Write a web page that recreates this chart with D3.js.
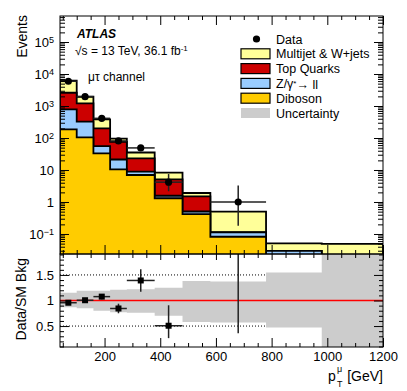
<!DOCTYPE html>
<html>
<head>
<meta charset="utf-8">
<script src="https://cdn.jsdelivr.net/npm/d3@7"></script>
<style>
  body { margin: 0; background: #fff; }
  svg { font-family: "Liberation Sans", Arial, Helvetica, sans-serif; }
</style>
</head>
<body>
<svg id="chart" width="407" height="391"></svg>
<script>
// bins in p_T (GeV)
const binEdges = [40, 100, 160, 220, 280, 380, 480, 580, 780, 980, 1200];

// background components per bin (events)
const diboson   = [187, 105, 33.3, 10.4, 6.98, 1.31, 0.42, 0.082, 0.022, 0.005];
const zjets     = [603, 218, 22.7, 10.9, 1.87, 0.26, 0.085, 0.031, 0.0075, 0.003];
const topQuarks = [1810, 887, 145, 54.7, 14.35, 3.55, 0.985, 0.002, 0, 0];
const multijet  = [3600, 740, 182, 20, 12, 3.12, 0.42, 0.384, 0.0215, 0.041];

// observed data, null = empty bin
const dataCounts  = [5930, 1960, 412, 81, 49, 4.17, null, 1, null, null];
const dataErrUp   = [77, 44, 20, 9, 7.7, 3.3, 0, 2.3, 0, 0];
const dataErrDown = [77, 44, 20, 9, 7.7, 2.0, 0, 0.82, 0, 0];

// relative systematic uncertainty on total background
const uncUp   = [0.15, 0.19, 0.19, 0.21, 0.22, 0.25, 0.38, 0.37, 0.55, 1.2];
const uncDown = [0.13, 0.15, 0.20, 0.23, 0.24, 0.30, 0.42, 0.43, 0.53, 1.2];

const mainYTicks = [1e-1, 1, 10, 1e2, 1e3, 1e4, 1e5];
const ratioYTicks = [0.5, 1, 1.5];
const xTicks = [200, 400, 600, 800, 1000, 1200];

const keys = ['diboson', 'zjets', 'top', 'multijet'];
const colors = { diboson: '#ffcc00', zjets: '#99ccff', top: '#cc0000', multijet: '#ffff99' };
const uncColor = '#cccccc';

const padLeft = 60, padRight = 383, padTop = 16, mainBottom = 254, ratioBottom = 347;

const x = d3.scaleLinear([40, 1200], [padLeft, padRight]);
const y = d3.scaleLog([0.0237, 6.5e5], [mainBottom, padTop]);
const yr = d3.scaleLinear([0.09, 1.91], [ratioBottom, mainBottom]);

const bins = binEdges.slice(0, -1).map((e, i) => ({
  x0: e, x1: binEdges[i + 1],
  diboson: diboson[i], zjets: zjets[i], top: topQuarks[i], multijet: multijet[i],
  data: dataCounts[i], up: dataErrUp[i], down: dataErrDown[i],
  uncUp: uncUp[i], uncDown: uncDown[i],
}));
bins.forEach((b) => { b.total = keys.reduce((s, k) => s + b[k], 0); });

const layers = d3.stack().keys(keys)(bins);

const svg = d3.select('#chart');
const defs = svg.append('defs');
defs.append('clipPath').attr('id', 'clip-main')
  .append('rect').attr('x', padLeft).attr('y', padTop)
  .attr('width', padRight - padLeft).attr('height', mainBottom - padTop);
defs.append('clipPath').attr('id', 'clip-ratio')
  .append('rect').attr('x', padLeft).attr('y', mainBottom)
  .attr('width', padRight - padLeft).attr('height', ratioBottom - mainBottom);

// ---------- main panel ----------
const gMain = svg.append('g').attr('clip-path', 'url(#clip-main)');

const stepPoints = (arr) => arr.flatMap((d) => [[d.data.x0, d[1]], [d.data.x1, d[1]]]);
const histArea = d3.area()
  .x((d) => x(d[0]))
  .y0(mainBottom + 10)
  .y1((d) => y(Math.max(d[1], 1e-5)));

layers.slice().reverse().forEach((layer) => {
  gMain.append('path')
    .attr('d', histArea(stepPoints(layer)))
    .attr('fill', colors[layer.key])
    .attr('stroke', '#000')
    .attr('stroke-width', 1.8)
    .attr('stroke-linejoin', 'miter');
});

const dataBins = bins.filter((b) => b.data != null);
const errColor = '#222';

gMain.selectAll('line.xerr')
  .data(dataBins)
  .join('line')
    .attr('x1', (d) => x(d.x0))
    .attr('x2', (d) => x(d.x1))
    .attr('y1', (d) => y(d.data))
    .attr('y2', (d) => y(d.data))
    .attr('stroke', errColor)
    .attr('stroke-width', 1.5);

gMain.selectAll('line.yerr')
  .data(dataBins)
  .join('line')
    .attr('x1', (d) => x((d.x0 + d.x1) / 2))
    .attr('x2', (d) => x((d.x0 + d.x1) / 2))
    .attr('y1', (d) => y(d.data + d.up))
    .attr('y2', (d) => y(Math.max(d.data - d.down, 1e-5)))
    .attr('stroke', errColor)
    .attr('stroke-width', 1.5);

gMain.selectAll('circle')
  .data(dataBins)
  .join('circle')
    .attr('cx', (d) => x((d.x0 + d.x1) / 2))
    .attr('cy', (d) => y(d.data))
    .attr('r', 3.6)
    .attr('fill', '#000');

// ---------- ratio panel ----------
const gRatio = svg.append('g').attr('clip-path', 'url(#clip-ratio)');

[0.5, 1.5].forEach((v) => {
  gRatio.append('line')
    .attr('x1', padLeft).attr('x2', padRight)
    .attr('y1', yr(v)).attr('y2', yr(v))
    .attr('stroke', '#000')
    .attr('stroke-width', 1)
    .attr('stroke-dasharray', '1,2');
});

const uncPoints = bins.flatMap((b) => [b, { ...b, x0: b.x1 }]);
gRatio.append('path')
  .attr('d', d3.area()
    .x((d) => x(d.x0))
    .y0((d) => yr(1 - d.uncDown))
    .y1((d) => yr(1 + d.uncUp))(uncPoints))
  .attr('fill', uncColor);

gRatio.append('line')
  .attr('x1', padLeft).attr('x2', padRight)
  .attr('y1', yr(1)).attr('y2', yr(1))
  .attr('stroke', '#ff0000')
  .attr('stroke-width', 1.5);

dataBins.forEach((b) => {
  const r = b.data / b.total;
  const cx = x((b.x0 + b.x1) / 2);
  gRatio.append('line')
    .attr('x1', x(b.x0)).attr('x2', x(b.x1))
    .attr('y1', yr(r)).attr('y2', yr(r))
    .attr('stroke', errColor).attr('stroke-width', 1.5);
  gRatio.append('line')
    .attr('x1', cx).attr('x2', cx)
    .attr('y1', yr(r + b.up / b.total))
    .attr('y2', yr(r - b.down / b.total))
    .attr('stroke', errColor).attr('stroke-width', 1.5);
  gRatio.append('rect')
    .attr('x', cx - 3).attr('y', yr(r) - 3)
    .attr('width', 6).attr('height', 6)
    .attr('fill', '#000');
});

// ---------- axes ----------
const logMinor = [];
for (let e = -2; e <= 5; e++) {
  for (let m = 2; m <= 9; m++) {
    const v = m * Math.pow(10, e);
    if (v > y.domain()[0] && v < y.domain()[1]) logMinor.push(v);
  }
}
const xMinor = d3.range(50, 1200, 50).filter((v) => v % 200 !== 0);
const rMinor = d3.range(1, 20).map((v) => v / 10).filter((v) => v % 0.5 !== 0);

function addAxis(axis, transform) {
  const g = svg.append('g')
    .attr('transform', transform)
    .call(axis.tickSizeOuter(0));
  g.select('.domain').remove();
  g.selectAll('line').attr('stroke', '#000');
  g.selectAll('text')
    .style('font-family', '"Liberation Sans", Arial, sans-serif')
    .style('font-size', '13px')
    .attr('fill', '#000');
  return g;
}

// main panel y
const yLabels = addAxis(
  d3.axisLeft(y).tickValues(mainYTicks).tickSize(-9).tickPadding(6),
  `translate(${padLeft},0)`);
yLabels.selectAll('text').each(function (d) {
  const t = d3.select(this).text('');
  const exp = Math.round(Math.log10(d));
  if (exp === 0) { t.text('1'); return; }
  t.append('tspan').text('10');
  if (exp !== 1) {
    t.append('tspan').attr('dy', '-0.45em').style('font-size', '9px')
      .text(exp < 0 ? '\u2212' + (-exp) : exp);
  }
});
addAxis(d3.axisLeft(y).tickValues(logMinor).tickSize(-5).tickFormat(''), `translate(${padLeft},0)`);
addAxis(d3.axisRight(y).tickValues(mainYTicks).tickSize(-9).tickFormat(''), `translate(${padRight},0)`);
addAxis(d3.axisRight(y).tickValues(logMinor).tickSize(-5).tickFormat(''), `translate(${padRight},0)`);

// main panel x (top and bottom, no labels)
addAxis(d3.axisTop(x).tickValues(xTicks).tickSize(-9).tickFormat(''), `translate(0,${padTop})`);
addAxis(d3.axisTop(x).tickValues(xMinor).tickSize(-4).tickFormat(''), `translate(0,${padTop})`);
addAxis(d3.axisBottom(x).tickValues(xTicks).tickSize(-9).tickFormat(''), `translate(0,${mainBottom})`);
addAxis(d3.axisBottom(x).tickValues(xMinor).tickSize(-4).tickFormat(''), `translate(0,${mainBottom})`);

// ratio panel
addAxis(d3.axisTop(x).tickValues(xTicks).tickSize(-6).tickFormat(''), `translate(0,${mainBottom})`);
addAxis(d3.axisTop(x).tickValues(xMinor).tickSize(-4).tickFormat(''), `translate(0,${mainBottom})`);
addAxis(d3.axisBottom(x).tickValues(xTicks).tickSize(-9).tickPadding(5).tickFormat(d3.format('d')), `translate(0,${ratioBottom})`);
addAxis(d3.axisBottom(x).tickValues(xMinor).tickSize(-4).tickFormat(''), `translate(0,${ratioBottom})`);
addAxis(d3.axisLeft(yr).tickValues(ratioYTicks).tickSize(-9).tickPadding(6).tickFormat(d3.format('')), `translate(${padLeft},0)`);
addAxis(d3.axisLeft(yr).tickValues(rMinor).tickSize(-4).tickFormat(''), `translate(${padLeft},0)`);
addAxis(d3.axisRight(yr).tickValues(ratioYTicks).tickSize(-9).tickFormat(''), `translate(${padRight},0)`);
addAxis(d3.axisRight(yr).tickValues(rMinor).tickSize(-4).tickFormat(''), `translate(${padRight},0)`);

// frames
[[padTop, mainBottom], [mainBottom, ratioBottom]].forEach(([a, b]) => {
  svg.append('rect')
    .attr('x', padLeft).attr('y', a)
    .attr('width', padRight - padLeft).attr('height', b - a)
    .attr('fill', 'none').attr('stroke', '#000').attr('stroke-width', 1);
});

// axis titles
svg.append('text')
  .text('Events')
  .attr('transform', `translate(27,15) rotate(-90)`)
  .attr('text-anchor', 'end')
  .style('font-size', '14px');

svg.append('text')
  .text('Data/SM Bkg')
  .attr('transform', `translate(26,258) rotate(-90)`)
  .attr('text-anchor', 'end')
  .style('font-size', '14px');

svg.append('text').text('[GeV]')
  .attr('x', padRight).attr('y', 381)
  .attr('text-anchor', 'end')
  .style('font-size', '14px');
svg.append('text').text('p')
  .attr('x', 328).attr('y', 381)
  .style('font-size', '14px');
svg.append('text').text('\u03bc')
  .attr('x', 337).attr('y', 372)
  .style('font-size', '9px');
svg.append('text').text('T')
  .attr('x', 337).attr('y', 387)
  .style('font-size', '9px');

// ATLAS labels
svg.append('text').text('ATLAS')
  .attr('x', 77).attr('y', 38)
  .style('font-size', '12px')
  .style('font-weight', 'bold')
  .style('font-style', 'italic');
const lumi = svg.append('text')
  .attr('x', 75).attr('y', 55)
  .style('font-size', '12px');
lumi.append('tspan').text('\u221As = 13 TeV, 36.1 fb');
lumi.append('tspan').attr('dy', '-0.45em').style('font-size', '8px').text('-1');
svg.append('text').text('\u03bc\u03c4 channel')
  .attr('x', 88).attr('y', 81)
  .style('font-size', '12px');

// legend
const legendItems = [
  { key: 'data', label: 'Data' },
  { key: 'multijet', label: 'Multijet & W+jets' },
  { key: 'top', label: 'Top Quarks' },
  { key: 'zjets', label: 'Z/\u03b3*\u2192 ll' },
  { key: 'diboson', label: 'Diboson' },
  { key: 'unc', label: 'Uncertainty' },
];
const legend = svg.append('g');
legendItems.forEach((item, i) => {
  const cy = 39 + i * 14.8;
  if (item.key === 'data') {
    legend.append('circle').attr('cx', 256.5).attr('cy', cy).attr('r', 3.6).attr('fill', '#000');
  } else if (item.key === 'unc') {
    legend.append('rect').attr('x', 241).attr('y', cy - 5).attr('width', 29).attr('height', 10)
      .attr('fill', uncColor);
  } else {
    legend.append('rect').attr('x', 241).attr('y', cy - 5).attr('width', 29).attr('height', 10)
      .attr('fill', colors[item.key]).attr('stroke', '#000').attr('stroke-width', 1.2);
  }
  const t = legend.append('text')
    .attr('x', 276).attr('y', cy + 4.6)
    .style('font-size', '12.5px');
  if (item.key === 'zjets') {
    t.append('tspan').text('Z/\u03b3');
    t.append('tspan').attr('dy', '-0.3em').style('font-size', '8px').text('*');
    t.append('tspan').attr('dy', '0.3em').text('\u2192 ll');
  } else {
    t.text(item.label);
  }
});
</script>
</body>
</html>
